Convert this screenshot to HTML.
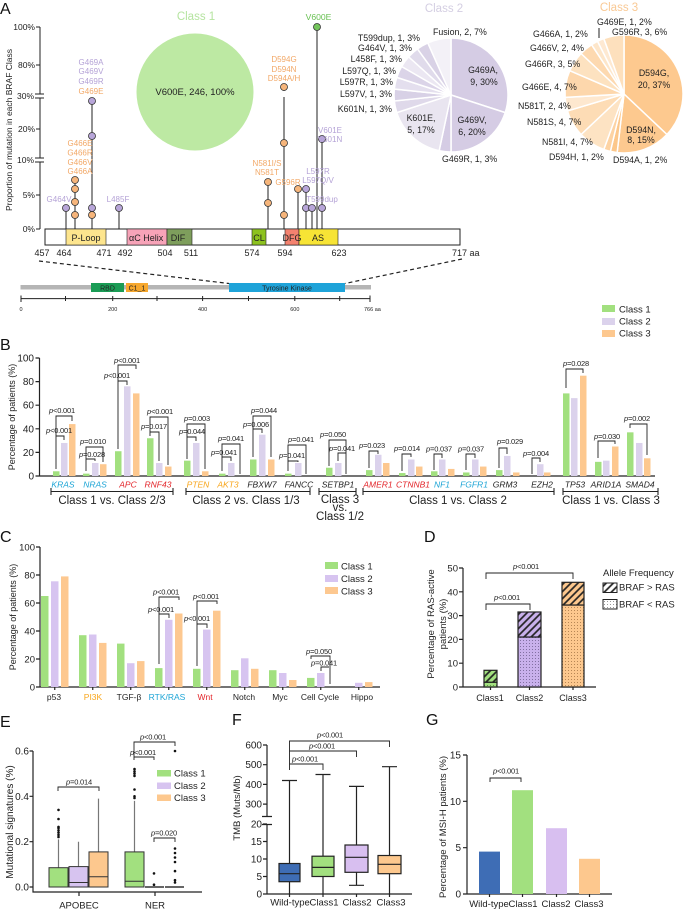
<!DOCTYPE html>
<html><head><meta charset="utf-8"><style>
html,body{margin:0;padding:0;background:#fff;}
svg{display:block;font-family:"Liberation Sans",Arial,sans-serif;}
.pv{font-size:7.5px;text-anchor:middle;letter-spacing:-0.2px;fill:#222}
.i{font-style:italic}
.br{stroke:#222;stroke-width:0.9;fill:none}
.ax{stroke:#222;stroke-width:1.2;fill:none}
.tk{font-size:10px;text-anchor:end;fill:#222}
.mid{text-anchor:middle}
.end{text-anchor:end}
</style></head><body>
<svg width="685" height="910" viewBox="0 0 685 910" xmlns="http://www.w3.org/2000/svg">
<defs>
<pattern id="hg" width="5" height="5" patternUnits="userSpaceOnUse" patternTransform="rotate(45)"><rect width="5" height="5" fill="#a2e07f"/><line x1="1" y1="0" x2="1" y2="5" stroke="#222" stroke-width="1.7"/></pattern>
<pattern id="hp" width="5" height="5" patternUnits="userSpaceOnUse" patternTransform="rotate(45)"><rect width="5" height="5" fill="#c9b1ec"/><line x1="1" y1="0" x2="1" y2="5" stroke="#222" stroke-width="1.7"/></pattern>
<pattern id="ho" width="5" height="5" patternUnits="userSpaceOnUse" patternTransform="rotate(45)"><rect width="5" height="5" fill="#fdc88e"/><line x1="1" y1="0" x2="1" y2="5" stroke="#222" stroke-width="1.7"/></pattern>
<pattern id="hw" width="5" height="5" patternUnits="userSpaceOnUse" patternTransform="rotate(45)"><rect width="5" height="5" fill="#fff"/><line x1="1" y1="0" x2="1" y2="5" stroke="#222" stroke-width="1.7"/></pattern>
<pattern id="dg" width="3" height="3" patternUnits="userSpaceOnUse"><rect width="3" height="3" fill="#a2e07f"/><circle cx="1.5" cy="1.5" r="0.5" fill="#4a7a3a"/></pattern>
<pattern id="dp" width="3" height="3" patternUnits="userSpaceOnUse"><rect width="3" height="3" fill="#c9b1ec"/><circle cx="1.5" cy="1.5" r="0.5" fill="#6a5a8a"/></pattern>
<pattern id="do" width="3" height="3" patternUnits="userSpaceOnUse"><rect width="3" height="3" fill="#fdc88e"/><circle cx="1.5" cy="1.5" r="0.5" fill="#a07040"/></pattern>
<pattern id="dw" width="3" height="3" patternUnits="userSpaceOnUse"><rect width="3" height="3" fill="#fff"/><circle cx="1.5" cy="1.5" r="0.5" fill="#777"/></pattern>
</defs>

<!-- ================= PANEL A ================= -->
<text x="0" y="14" font-size="16" fill="#111">A</text>
<text x="196" y="20" font-size="11.5" text-anchor="middle" fill="#b5e4a0">Class 1</text>
<circle cx="195" cy="92" r="58.5" fill="#bde9a3"/>
<text x="195" y="95" font-size="9.5" text-anchor="middle" fill="#222">V600E, 246, 100%</text>

<g stroke="#222" stroke-width="1" fill="none">
<path d="M40 27V94M40 98V158M40 162V229"/>
<path d="M36 27H40M36 65H40M36 129H40M36 195H40M36 229H40"/>
<path d="M35 94H44M35 98H44M35 158H44M35 162H44"/>
</g>
<g font-size="8.5" text-anchor="end" fill="#222">
<text x="35" y="30">100%</text><text x="35" y="68">80%</text><text x="34" y="99">30%</text>
<text x="35" y="132">20%</text><text x="34" y="163">10%</text><text x="35" y="198">5%</text><text x="35" y="232">0%</text>
</g>
<text transform="translate(12,130) rotate(-90)" text-anchor="middle" font-size="8.5" fill="#222">Proportion of mutation in each BRAF Class</text>

<!-- domain bar -->
<rect x="45" y="229" width="415" height="16" fill="#fff" stroke="#222" stroke-width="1"/>
<rect x="66" y="229" width="40" height="16" fill="#fde58e" stroke="#222" stroke-width="0.6"/>
<rect x="127" y="229" width="40" height="16" fill="#f7a3b8" stroke="#222" stroke-width="0.6"/>
<text x="129" y="241" font-size="9" fill="#222">αC Helix</text>
<rect x="167" y="229" width="25" height="16" fill="#7e9e5c" stroke="#222" stroke-width="0.6"/>
<rect x="252" y="229" width="14" height="16" fill="#8dc21f" stroke="#222" stroke-width="0.6"/>
<rect x="285" y="229" width="14" height="16" fill="#f4826f" stroke="#222" stroke-width="0.6"/>
<rect x="299" y="229" width="39" height="16" fill="#f7e435" stroke="#222" stroke-width="0.6"/>
<g font-size="9" fill="#222" text-anchor="middle">
<text x="86" y="241">P-Loop</text><text x="178" y="241">DIF</text><text x="259" y="241">CL</text>
<text x="292" y="241">DFG</text><text x="318" y="241">AS</text>
</g>
<g font-size="9" fill="#222" text-anchor="middle">
<text x="42" y="256">457</text><text x="64" y="256">464</text><text x="104" y="256">471</text><text x="125" y="256">492</text>
<text x="165" y="256">504</text><text x="191" y="256">511</text><text x="252" y="256">574</text><text x="285" y="256">594</text>
<text x="339" y="256">623</text><text x="452" y="256" text-anchor="start">717 aa</text>
</g>

<!-- stems -->
<path d="M66 208V229M75 180V229M92 101V229M119 208V229M268 182V229M284 97V229M284 87V91M298 189V229M306 189V229M312 208V229M317 27V229M322 139V229" stroke="#222" stroke-width="1" fill="none"/>
<g stroke="#333" stroke-width="0.8">
<g fill="#b8a6d9">
<circle cx="66" cy="208" r="3.5"/><circle cx="92" cy="101" r="3.5"/><circle cx="92" cy="136" r="3.5"/><circle cx="92" cy="208" r="3.5"/>
<circle cx="119" cy="208" r="3.5"/><circle cx="306" cy="189" r="3.5"/><circle cx="306" cy="208" r="3.5"/><circle cx="312" cy="208" r="3.5"/>
<circle cx="322" cy="139" r="3.5"/><circle cx="322" cy="208" r="3.5"/>
</g>
<g fill="#f6b57b">
<circle cx="75" cy="180" r="3.5"/><circle cx="75" cy="189" r="3.5"/><circle cx="75" cy="202" r="3.5"/><circle cx="75" cy="215" r="3.5"/>
<circle cx="92" cy="215" r="3.5"/><circle cx="268" cy="182" r="3.5"/><circle cx="268" cy="203" r="3.5"/>
<circle cx="284" cy="87" r="3.5"/><circle cx="284" cy="143" r="3.5"/><circle cx="284" cy="215" r="3.5"/><circle cx="298" cy="189" r="3.5"/>
</g>
<circle cx="317" cy="27" r="3.5" fill="#74c55c"/>
</g>
<g font-size="8" text-anchor="middle">
<g fill="#b4a2d6">
<text x="59" y="202">G464V</text>
<text x="91" y="65">G469A</text><text x="91" y="74">G469V</text><text x="91" y="84">G469R</text>
<text x="118" y="202">L485F</text>
<text x="318" y="174">L597R</text><text x="318" y="183">L597Q/V</text>
<text x="322" y="202">T599dup</text>
<text x="330" y="133">V601E</text><text x="330" y="142">V601N</text>
</g>
<g fill="#f2a867">
<text x="80" y="146">G466E</text><text x="80" y="155.5">G466R</text><text x="80" y="165">G466V</text><text x="80" y="174">G466A</text>
<text x="91" y="94">G469E</text>
<text x="267" y="166">N581I/S</text><text x="267" y="175">N581T</text>
<text x="284" y="62">D594G</text><text x="284" y="72">D594N</text><text x="284" y="81">D594A/H</text>
<text x="288" y="185">G596R</text>
</g>
<text x="318.5" y="20" fill="#68c152" font-size="8.6">V600E</text>
</g>

<!-- protein schematic -->
<g stroke="#222" stroke-width="1.2" stroke-dasharray="4,3" fill="none">
<path d="M39 261L229 283.5"/><path d="M462 259L345 283.5"/>
</g>
<rect x="20.5" y="285" width="350.5" height="4.5" fill="#b5b5b5"/>
<rect x="91" y="283" width="33" height="9" fill="#1a9c55"/>
<rect x="126" y="283" width="22" height="9" fill="#f7a82e"/>
<rect x="229" y="283" width="116" height="9" fill="#1ea3d9"/>
<g font-size="7" text-anchor="middle" fill="#222">
<text x="107.5" y="290.5">RBD</text><text x="137" y="290.5">C1_1</text><text x="287" y="290.5">Tyrosine  Kinase</text>
</g>
<path d="M21 298.6H370M21 295.5V302M65.5 296V301M112.7 296V301M157 296V301M202.6 296V301M248.5 296V301M294.8 296V301M339.7 296V301M370 295.5V302" stroke="#222" stroke-width="1" fill="none"/>
<g font-size="5.5" fill="#222" text-anchor="middle">
<text x="21" y="311">0</text><text x="112.7" y="311">200</text><text x="202.6" y="311">400</text><text x="294.8" y="311">600</text>
<text x="364" y="311" text-anchor="start">766 aa</text>
</g>

<!-- Class 2 pie -->
<text x="444" y="12" font-size="11.5" text-anchor="middle" fill="#d4cee2">Class 2</text>
<g stroke="#fff" stroke-width="1.5">
<path d="M451 95L451 38A57 57 0 0 1 505.21 112.61Z" fill="#d5cce4"/>
<path d="M451 95L505.21 112.61A57 57 0 0 1 451 152Z" fill="#d5cce4"/>
<path d="M451 95L451 152A57 57 0 0 1 439.15 150.75Z" fill="#d5cce4"/>
<path d="M451 95L439.15 150.75A57 57 0 0 1 396.79 112.61Z" fill="#e9e5f0"/>
<path d="M451 95L396.79 112.61A57 57 0 0 1 394.31 100.96Z" fill="#dfd9ea"/>
<path d="M451 95L394.31 100.96A57 57 0 0 1 394.31 89.04Z" fill="#d8d1e6"/>
<path d="M451 95L394.31 89.04A57 57 0 0 1 396.79 77.39Z" fill="#e4dfee"/>
<path d="M451 95L396.79 77.39A57 57 0 0 1 401.64 66.5Z" fill="#dbd4e8"/>
<path d="M451 95L401.64 66.5A57 57 0 0 1 408.64 56.86Z" fill="#ebe7f2"/>
<path d="M451 95L408.64 56.86A57 57 0 0 1 417.5 48.89Z" fill="#e0dbeb"/>
<path d="M451 95L417.5 48.89A57 57 0 0 1 427.82 42.93Z" fill="#d9d2e6"/>
<path d="M451 95L427.82 42.93A57 57 0 0 1 451 38Z" fill="#f3f1f7"/>
</g>
<g font-size="8.8" fill="#222">
<text x="433" y="35">Fusion, 2, 7%</text>
<g text-anchor="end">
<text x="420" y="41">T599dup, 1, 3%</text><text x="412" y="51">G464V, 1, 3%</text><text x="402" y="62">L458F, 1, 3%</text>
<text x="396" y="74">L597Q, 1, 3%</text><text x="393" y="85">L597R, 1, 3%</text><text x="392" y="97">L597V, 1, 3%</text>
<text x="392" y="112">K601N, 1, 3%</text>
</g>
<g text-anchor="middle">
<text x="483" y="73">G469A,</text><text x="484" y="85">9, 30%</text>
<text x="472" y="123">G469V,</text><text x="472" y="135">6, 20%</text>
<text x="421" y="121">K601E,</text><text x="421" y="133">5, 17%</text>
</g>
<text x="442" y="162">G469R, 1, 3%</text>
</g>

<!-- Class 3 pie -->
<text x="619" y="11" font-size="11.5" text-anchor="middle" fill="#f9c995">Class 3</text>
<g stroke="#fff" stroke-width="1.5">
<path d="M624 94L624 35A59 59 0 0 1 666.92 134.49Z" fill="#fdc98f"/>
<path d="M624 94L666.92 134.49A59 59 0 0 1 617.15 152.6Z" fill="#fdc98f"/>
<path d="M624 94L617.15 152.6A59 59 0 0 1 610.39 151.41Z" fill="#fcc78a"/>
<path d="M624 94L610.39 151.41A59 59 0 0 1 603.82 149.44Z" fill="#fdd3a3"/>
<path d="M624 94L603.82 149.44A59 59 0 0 1 581.08 134.49Z" fill="#fde3c3"/>
<path d="M624 94L581.08 134.49A59 59 0 0 1 567.48 110.92Z" fill="#fddcb5"/>
<path d="M624 94L567.48 110.92A59 59 0 0 1 565.1 97.43Z" fill="#fee8cf"/>
<path d="M624 94L565.1 97.43A59 59 0 0 1 569.81 70.63Z" fill="#fdd7ac"/>
<path d="M624 94L569.81 70.63A59 59 0 0 1 581.08 53.51Z" fill="#fde2c0"/>
<path d="M624 94L581.08 53.51A59 59 0 0 1 591.58 44.71Z" fill="#fdd9b0"/>
<path d="M624 94L591.58 44.71A59 59 0 0 1 597.53 41.27Z" fill="#fde6ca"/>
<path d="M624 94L597.53 41.27A59 59 0 0 1 603.82 38.56Z" fill="#fee9d2"/>
<path d="M624 94L603.82 38.56A59 59 0 0 1 624 35Z" fill="#fde0bd"/>
</g>
<path d="M599 28V38" stroke="#222" stroke-width="1"/>
<g font-size="8.8" fill="#222">
<text x="597" y="25">G469E, 1, 2%</text><text x="612" y="35">G596R, 3, 6%</text>
<text x="533" y="37">G466A, 1, 2%</text><text x="530" y="51">G466V, 2, 4%</text>
<text x="525" y="67">G466R, 3, 5%</text><text x="522" y="90">G466E, 4, 7%</text>
<text x="518" y="109">N581T, 2, 4%</text><text x="527" y="125">N581S, 4, 7%</text>
<text x="542" y="145">N581I, 4, 7%</text><text x="549" y="160">D594H, 1, 2%</text>
<text x="613" y="163">D594A, 1, 2%</text>
<g text-anchor="middle">
<text x="654" y="76">D594G,</text><text x="654" y="88">20, 37%</text>
<text x="641" y="133">D594N,</text><text x="641" y="143">8, 15%</text>
</g>
</g>

<!-- ================= PANEL B ================= -->
<text x="0" y="350" font-size="16" fill="#111">B</text>
<path class="ax" d="M39.5 358V476H655M35.5 358H39.5M35.5 381.6H39.5M35.5 405.2H39.5M35.5 428.8H39.5M35.5 452.4H39.5M35.5 476H39.5"/>
<g class="tk">
<text x="34" y="361.5">100</text><text x="34" y="385">80</text><text x="34" y="408.7">60</text>
<text x="34" y="432.3">40</text><text x="34" y="456">20</text><text x="34" y="479.5">0</text>
</g>
<text transform="translate(15,417) rotate(-90)" text-anchor="middle" font-size="9" fill="#222">Percentage of patients (%)</text>

<g fill="#a2e07f">
<rect x="53" y="471.28" width="6.5" height="4.72"/><rect x="83" y="473.64" width="6.5" height="2.36"/>
<rect x="115" y="451.22" width="6.5" height="24.78"/><rect x="147" y="438.24" width="6.5" height="37.76"/>
<rect x="184" y="460.66" width="6.5" height="15.34"/><rect x="219" y="473.64" width="6.5" height="2.36"/>
<rect x="250" y="459.48" width="6.5" height="16.52"/><rect x="285" y="473.64" width="6.5" height="2.36"/>
<rect x="326" y="467.74" width="6.5" height="8.26"/><rect x="366" y="470.1" width="6.5" height="5.9"/>
<rect x="399" y="473.05" width="6.5" height="2.95"/><rect x="431" y="471.28" width="6.5" height="4.72"/>
<rect x="463" y="472.46" width="6.5" height="3.54"/><rect x="496" y="470.1" width="6.5" height="5.9"/>
<rect x="563" y="393.4" width="6.5" height="82.6"/><rect x="595" y="461.84" width="6.5" height="14.16"/>
<rect x="627" y="432.34" width="6.5" height="43.66"/>
</g>
<g fill="#dbd2ec">
<rect x="61" y="442.96" width="6.5" height="33.04"/><rect x="92" y="463.02" width="6.5" height="12.98"/>
<rect x="124" y="386.32" width="6.5" height="89.68"/><rect x="156" y="463.02" width="6.5" height="12.98"/>
<rect x="193" y="442.96" width="6.5" height="33.04"/><rect x="228" y="463.02" width="6.5" height="12.98"/>
<rect x="259" y="434.7" width="6.5" height="41.3"/><rect x="295" y="463.02" width="6.5" height="12.98"/>
<rect x="335" y="463.02" width="6.5" height="12.98"/><rect x="375" y="454.76" width="6.5" height="21.24"/>
<rect x="408" y="459.48" width="6.5" height="16.52"/><rect x="439" y="459.48" width="6.5" height="16.52"/>
<rect x="472" y="459.48" width="6.5" height="16.52"/><rect x="504" y="455.94" width="6.5" height="20.06"/>
<rect x="537" y="464.2" width="6.5" height="11.8"/><rect x="571" y="398.12" width="6.5" height="77.88"/>
<rect x="603" y="460.66" width="6.5" height="15.34"/><rect x="636" y="442.96" width="6.5" height="33.04"/>
</g>
<g fill="#fdc88f">
<rect x="69" y="424.08" width="6.5" height="51.92"/><rect x="100" y="464.2" width="6.5" height="11.8"/>
<rect x="133" y="393.4" width="6.5" height="82.6"/><rect x="165" y="466.56" width="6.5" height="9.44"/>
<rect x="202" y="471.28" width="6.5" height="4.72"/><rect x="268" y="459.48" width="6.5" height="16.52"/>
<rect x="383" y="463.02" width="6.5" height="12.98"/><rect x="416" y="466.56" width="6.5" height="9.44"/>
<rect x="448" y="468.92" width="6.5" height="7.08"/><rect x="480" y="466.56" width="6.5" height="9.44"/>
<rect x="513" y="472.46" width="6.5" height="3.54"/><rect x="544" y="472.46" width="6.5" height="3.54"/>
<rect x="580" y="375.7" width="6.5" height="100.3"/><rect x="612" y="446.5" width="6.5" height="29.5"/>
<rect x="644" y="458.3" width="6.5" height="17.7"/>
</g>

<!-- B brackets -->
<path class="br" d="M56 469V436H64V440M56 436V416H72V421M86 471V459H95V461M86 459V447H103V462M118 449V381H127V385M118 381V365H136V369M150 436V432H159V461M150 432V417H168V465M187 459V437H196V441M187 437V424H205V469M222 471V457H231V461M222 457V444H240V474M253 457V429H262V433M253 429V416H271V457M288 471V461H298V462M288 461V445H306V474M329 466V440H346V453M338 461V453H346V474M369 468V451H378V454M402 471V454H411V457M434 470V454H442V458M466 470V454H475V458M499 468V448H507V454M532 474V458H540V462M566 388V369H583V373M598 458V441H615V444M630 428V424H647V455"/>
<text class="pv" x="59" y="433"><tspan class="i">p</tspan>&lt;0.001</text>
<text class="pv" x="62" y="413"><tspan class="i">p</tspan>&lt;0.001</text>
<text class="pv" x="92" y="457"><tspan class="i">p</tspan>=0.028</text>
<text class="pv" x="93" y="444"><tspan class="i">p</tspan>=0.010</text>
<text class="pv" x="117" y="378"><tspan class="i">p</tspan>&lt;0.001</text>
<text class="pv" x="127" y="363"><tspan class="i">p</tspan>&lt;0.001</text>
<text class="pv" x="154" y="429"><tspan class="i">p</tspan>=0.017</text>
<text class="pv" x="160" y="414"><tspan class="i">p</tspan>&lt;0.001</text>
<text class="pv" x="192" y="434"><tspan class="i">p</tspan>=0.044</text>
<text class="pv" x="197" y="421"><tspan class="i">p</tspan>=0.003</text>
<text class="pv" x="224" y="455"><tspan class="i">p</tspan>=0.041</text>
<text class="pv" x="231" y="441"><tspan class="i">p</tspan>=0.041</text>
<text class="pv" x="256" y="427"><tspan class="i">p</tspan>=0.006</text>
<text class="pv" x="264" y="413"><tspan class="i">p</tspan>=0.044</text>
<text class="pv" x="292" y="458"><tspan class="i">p</tspan>=0.041</text>
<text class="pv" x="301" y="442"><tspan class="i">p</tspan>=0.041</text>
<text class="pv" x="333" y="437"><tspan class="i">p</tspan>=0.050</text>
<text class="pv" x="342" y="451"><tspan class="i">p</tspan>=0.041</text>
<text class="pv" x="372" y="448"><tspan class="i">p</tspan>=0.023</text>
<text class="pv" x="407" y="451"><tspan class="i">p</tspan>=0.014</text>
<text class="pv" x="439" y="451.5"><tspan class="i">p</tspan>=0.037</text>
<text class="pv" x="471" y="451.5"><tspan class="i">p</tspan>=0.037</text>
<text class="pv" x="510" y="444"><tspan class="i">p</tspan>=0.029</text>
<text class="pv" x="536" y="456"><tspan class="i">p</tspan>=0.004</text>
<text class="pv" x="576" y="366"><tspan class="i">p</tspan>=0.028</text>
<text class="pv" x="607" y="439"><tspan class="i">p</tspan>=0.030</text>
<text class="pv" x="637" y="421"><tspan class="i">p</tspan>=0.002</text>

<!-- B gene labels -->
<g font-size="8.5" font-style="italic" text-anchor="middle">
<text x="63" y="487.5" fill="#1ea5d6">KRAS</text><text x="95" y="487.5" fill="#1ea5d6">NRAS</text>
<text x="128" y="487.5" fill="#e3262b">APC</text><text x="158" y="487.5" fill="#e3262b">RNF43</text>
<text x="198" y="487.5" fill="#f8a61c">PTEN</text><text x="228" y="487.5" fill="#f8a61c">AKT3</text>
<text x="262" y="487.5" fill="#222">FBXW7</text><text x="299" y="487.5" fill="#222">FANCC</text>
<text x="338" y="487.5" fill="#222">SETBP1</text>
<text x="378" y="487.5" fill="#e3262b">AMER1</text><text x="413" y="487.5" fill="#e3262b">CTNNB1</text>
<text x="442" y="487.5" fill="#1ea5d6">NF1</text><text x="474" y="487.5" fill="#1ea5d6">FGFR1</text>
<text x="505" y="487.5" fill="#222">GRM3</text><text x="542" y="487.5" fill="#222">EZH2</text>
<text x="575" y="487.5" fill="#222">TP53</text><text x="606" y="487.5" fill="#222">ARID1A</text><text x="640" y="487.5" fill="#222">SMAD4</text>
</g>
<path d="M51 491.5H173M51 488V495M173 488V495M186 491.5H310M186 488V495M310 488V495M319 491.5H356M319 488V495M356 488V495M363 491.5H554M363 488V495M554 488V495M563 491.5H658M563 488V495M658 488V495" stroke="#222" stroke-width="1.1" fill="none"/>
<g font-size="11.5" text-anchor="middle" fill="#222">
<text x="112" y="504">Class 1 vs. Class 2/3</text>
<text x="246" y="504">Class 2 vs. Class 1/3</text>
<text x="340" y="503">Class 3</text><text x="340" y="511">vs.</text><text x="340" y="520">Class 1/2</text>
<text x="458" y="504">Class 1 vs. Class 2</text>
<text x="611" y="504">Class 1 vs. Class 3</text>
</g>
<!-- B legend -->
<rect x="602" y="305" width="13" height="7" fill="#a2e07f"/>
<rect x="602" y="318" width="13" height="7" fill="#dbd2ec"/>
<rect x="602" y="330" width="13" height="7" fill="#fdc88f"/>
<g font-size="9.5" fill="#222">
<text x="619" y="312.5">Class 1</text><text x="619" y="324.5">Class 2</text><text x="619" y="336.5">Class 3</text>
</g>

<!-- ================= PANEL C ================= -->
<text x="0" y="542" font-size="16" fill="#111">C</text>
<path class="ax" d="M40 547V687H380M36 547H40M36 575H40M36 603H40M36 631H40M36 659H40M36 687H40M54.75 687V690M92.75 687V690M130.75 687V690M168.75 687V690M206.75 687V690M244.75 687V690M282.75 687V690M320.75 687V690M358.75 687V690"/>
<g class="tk" style="font-size:9.5px">
<text x="35" y="550.5">100</text><text x="35" y="578.5">80</text><text x="35" y="606.5">60</text>
<text x="35" y="634.5">40</text><text x="35" y="662.5">20</text><text x="35" y="690.5">0</text>
</g>
<text transform="translate(16,617) rotate(-90)" text-anchor="middle" font-size="9" fill="#222">Percentage of patients (%)</text>
<g fill="#a2e07f">
<rect x="41" y="596" width="7.5" height="91"/><rect x="79" y="635.2" width="7.5" height="51.8"/>
<rect x="117" y="643.6" width="7.5" height="43.4"/><rect x="155" y="668.1" width="7.5" height="18.9"/>
<rect x="193" y="668.8" width="7.5" height="18.2"/><rect x="231" y="670.2" width="7.5" height="16.8"/>
<rect x="269" y="670.2" width="7.5" height="16.8"/><rect x="307" y="677.9" width="7.5" height="9.1"/>
</g>
<g fill="#d7c4f0">
<rect x="51" y="581.3" width="7.5" height="105.7"/><rect x="89" y="634.5" width="7.5" height="52.5"/>
<rect x="127" y="663.2" width="7.5" height="23.8"/><rect x="165" y="619.8" width="7.5" height="67.2"/>
<rect x="203" y="629.6" width="7.5" height="57.4"/><rect x="241" y="658.3" width="7.5" height="28.7"/>
<rect x="279" y="673" width="7.5" height="14"/><rect x="317" y="673" width="7.5" height="14"/>
<rect x="355" y="682.8" width="7.5" height="4.2"/>
</g>
<g fill="#fdc890">
<rect x="61" y="576.4" width="7.5" height="110.6"/><rect x="99" y="642.9" width="7.5" height="44.1"/>
<rect x="137" y="661.1" width="7.5" height="25.9"/><rect x="175" y="613.5" width="7.5" height="73.5"/>
<rect x="213" y="610.7" width="7.5" height="76.3"/><rect x="251" y="668.8" width="7.5" height="18.2"/>
<rect x="289" y="680" width="7.5" height="7"/><rect x="365" y="682.1" width="7.5" height="4.9"/>
</g>
<path class="br" d="M159 664V614H169V618M159 614V597H179V600M197 666V624H207V628M197 624V601H217V604M311 659V656H330V684M321 671V667H329"/>
<text class="pv" x="161" y="612"><tspan class="i">p</tspan>&lt;0.001</text>
<text class="pv" x="166" y="594.5"><tspan class="i">p</tspan>&lt;0.001</text>
<text class="pv" x="197" y="621"><tspan class="i">p</tspan>&lt;0.001</text>
<text class="pv" x="206" y="599"><tspan class="i">p</tspan>&lt;0.001</text>
<text class="pv" x="319" y="654"><tspan class="i">p</tspan>=0.050</text>
<text class="pv" x="324" y="665.5"><tspan class="i">p</tspan>=0.041</text>
<g font-size="8.5" text-anchor="middle" fill="#222">
<text x="54" y="700">p53</text><text x="93" y="700" fill="#f8a61c">PI3K</text><text x="129" y="700">TGF-β</text>
<text x="167" y="700" fill="#1ea5d6">RTK/RAS</text><text x="205" y="700" fill="#e3262b">Wnt</text>
<text x="244" y="700">Notch</text><text x="280" y="700">Myc</text><text x="320" y="700">Cell Cycle</text><text x="362" y="700">Hippo</text>
</g>
<rect x="325" y="562" width="13" height="7" fill="#a2e07f"/>
<rect x="325" y="575" width="13" height="7" fill="#d7c4f0"/>
<rect x="325" y="587" width="13" height="7" fill="#fdc890"/>
<g font-size="9.5" fill="#222">
<text x="341" y="569.5">Class 1</text><text x="341" y="582">Class 2</text><text x="341" y="594.5">Class 3</text>
</g>

<!-- ================= PANEL D ================= -->
<text x="424" y="542" font-size="16" fill="#111">D</text>
<path class="ax" d="M463 568V687H596M459 568H463M459 591.8H463M459 615.6H463M459 639.4H463M459 663.2H463M459 687H463M490.5 687V690M529.5 687V690M573 687V690"/>
<g class="tk" style="font-size:9.5px">
<text x="458" y="571.5">50</text><text x="458" y="595.3">40</text><text x="458" y="619">30</text>
<text x="458" y="643">20</text><text x="458" y="666.7">10</text><text x="458" y="690.5">0</text>
</g>
<g font-size="9.5" text-anchor="middle" fill="#222">
<text transform="translate(434,624) rotate(-90)">Percentage of RAS-active</text>
<text transform="translate(446,624) rotate(-90)">patients (%)</text>
</g>
<g stroke="#222" stroke-width="1.2">
<rect x="484" y="682.2" width="13" height="4.8" fill="url(#dg)"/>
<rect x="484" y="670.3" width="13" height="11.9" fill="url(#hg)"/>
<rect x="518" y="637" width="23" height="50" fill="url(#dp)"/>
<rect x="518" y="612" width="23" height="25" fill="url(#hp)"/>
<rect x="562" y="605" width="22" height="82" fill="url(#do)"/>
<rect x="562" y="582.3" width="22" height="22.7" fill="url(#ho)"/>
</g>
<path class="br" d="M486 610V604H530V610M486 579V573H573V579"/>
<text class="pv" x="507" y="600"><tspan class="i">p</tspan>&lt;0.001</text>
<text class="pv" x="526" y="569"><tspan class="i">p</tspan>&lt;0.001</text>
<g font-size="9" text-anchor="middle" fill="#222">
<text x="490" y="701">Class1</text><text x="529.5" y="701">Class2</text><text x="573" y="701">Class3</text>
</g>
<g font-size="9.5" fill="#222">
<text x="603" y="576">Allele Frequency</text>
<text x="619" y="590.5">BRAF &gt; RAS</text>
<text x="619" y="607.5">BRAF &lt; RAS</text>
</g>
<rect x="603" y="583" width="14" height="9.5" fill="url(#hw)" stroke="#222" stroke-width="1"/>
<rect x="603" y="599.5" width="14" height="9.5" fill="url(#dw)" stroke="#222" stroke-width="1"/>

<!-- ================= PANEL E ================= -->
<text x="0" y="727" font-size="16" fill="#111">E</text>
<path class="ax" d="M33 751V892H202M29.5 751H33M29.5 796.3H33M29.5 841.7H33M29.5 887H33M79 892V896M155 892V896"/>
<g class="tk">
<text x="29" y="754.5">0.6</text><text x="29" y="799.8">0.4</text><text x="29" y="845.2">0.2</text><text x="29" y="890.5">0.0</text>
</g>
<text transform="translate(13,822) rotate(-90)" text-anchor="middle" font-size="10" fill="#222">Mutational signatures (%)</text>
<!-- whiskers -->
<path d="M58.5 867.7V839.4M78.5 866.6V841.7M98.5 851.9V798.6M134.5 851.9V800.9" stroke="#777" stroke-width="1.2"/>
<g stroke="#333" stroke-width="1">
<rect x="49" y="867.7" width="19" height="19.3" fill="#a2e07f"/>
<rect x="69" y="866.6" width="19" height="20.4" fill="#d7c4f0"/>
<rect x="89" y="851.9" width="19" height="35.1" fill="#fdc88e"/>
<rect x="125" y="851.9" width="19" height="35.1" fill="#a2e07f"/>
<path d="M69 882.5H88M89 876.8H108M125 881.3H144" fill="none"/>
</g>
<path d="M145 887H164M165 887H184" stroke="#333" stroke-width="1.5"/>
<g fill="#111">
<circle cx="58.5" cy="837" r="1.3"/><circle cx="58.5" cy="834.9" r="1.3"/><circle cx="58.5" cy="832.6" r="1.3"/>
<circle cx="58.5" cy="830.3" r="1.3"/><circle cx="58.5" cy="828" r="1.3"/><circle cx="58.5" cy="826.9" r="1.3"/>
<circle cx="58.5" cy="819" r="1.3"/><circle cx="58.5" cy="809.9" r="1.3"/>
<circle cx="134.5" cy="789.5" r="1.3"/><circle cx="134.5" cy="796.3" r="1.3"/><circle cx="134.5" cy="798" r="1.3"/>
<circle cx="134.5" cy="775.9" r="1.3"/><circle cx="134.5" cy="773.6" r="1.3"/><circle cx="134.5" cy="771.4" r="1.3"/><circle cx="134.5" cy="769.1" r="1.3"/>
<circle cx="154" cy="873.4" r="1.3"/><circle cx="154" cy="884.7" r="1.3"/>
<circle cx="175" cy="751" r="1.3"/><circle cx="175" cy="848.5" r="1.3"/><circle cx="175" cy="853" r="1.3"/>
<circle cx="175" cy="857.5" r="1.3"/><circle cx="175" cy="862" r="1.3"/><circle cx="175" cy="871.1" r="1.3"/>
<circle cx="175" cy="880.2" r="1.3"/><circle cx="175" cy="882.5" r="1.3"/>
</g>
<path class="br" d="M58 791V787H99V791M134 760V742H175V746M134 757H154V760M154 842V838H175V842"/>
<text class="pv" x="79" y="784.5"><tspan class="i">p</tspan>=0.014</text>
<text class="pv" x="153" y="739.5"><tspan class="i">p</tspan>&lt;0.001</text>
<text class="pv" x="143" y="755"><tspan class="i">p</tspan>&lt;0.001</text>
<text class="pv" x="164" y="835.5"><tspan class="i">p</tspan>=0.020</text>
<rect x="157" y="770" width="14" height="6.5" fill="#a2e07f"/>
<rect x="157" y="782.5" width="14" height="6.5" fill="#d7c4f0"/>
<rect x="157" y="794.5" width="14" height="6.5" fill="#fdc88e"/>
<g font-size="9.5" fill="#222">
<text x="174" y="776.5">Class 1</text><text x="174" y="789">Class 2</text><text x="174" y="801">Class 3</text>
</g>
<g font-size="9.5" text-anchor="middle" fill="#222">
<text x="79" y="908.5">APOBEC</text><text x="155" y="908.5">NER</text>
</g>

<!-- ================= PANEL F ================= -->
<text x="232" y="725" font-size="16" fill="#111">F</text>
<path class="ax" d="M267 745V817M267 824V894H412M263 745H267M263 764.7H267M263 784.4H267M263 804.1H267M263 824H267M263 841.5H267M263 859H267M263 876.5H267M263 894H267M289.5 894V897M323 894V897M356.5 894V897M389.5 894V897"/>
<path d="M262 816.5H272M262 824.5H272" stroke="#222" stroke-width="1.2"/>
<g class="tk">
<text x="262" y="748.5">600</text><text x="262" y="768.2">500</text><text x="262" y="787.9">400</text><text x="262" y="807.6">300</text>
<text x="262" y="827.5">20</text><text x="262" y="845">15</text><text x="262" y="862.5">10</text><text x="262" y="880">5</text><text x="262" y="897.5">0</text>
</g>
<text transform="translate(240,808) rotate(-90)" text-anchor="middle" font-size="9.5" fill="#222">TMB (Muts/Mb)</text>
<g stroke="#222" stroke-width="1.2" fill="none">
<path d="M289.5 780.5V863.5M289.5 881.7V894M282 780.5H297"/>
<path d="M323 774.5V856.2M323 876.5V894M315.5 774.5H330.5"/>
<path d="M356.5 786.4V845M356.5 872.3V885.3M349 786.4H364M349 885.3H364"/>
<path d="M389.5 766.7V855.5M389.5 873.7V894M382 766.7H397"/>
</g>
<g stroke="#222" stroke-width="1.2">
<rect x="279" y="863.5" width="21" height="18.2" fill="#3e6db5"/>
<rect x="312" y="856.2" width="22" height="20.3" fill="#a2e07f"/>
<rect x="345" y="845" width="23" height="27.3" fill="#d8bff0"/>
<rect x="378" y="855.5" width="23" height="18.2" fill="#fdc88e"/>
<path d="M279 873.7H300M312 867.4H334M345 857.3H368M378 864.3H401" fill="none"/>
</g>
<path class="br" d="M289.5 770V741H389.5V747M289.5 751H356.5V757M289.5 764H323V770"/>
<text class="pv" x="305" y="761.5"><tspan class="i">p</tspan>&lt;0.001</text>
<text class="pv" x="322" y="748.5"><tspan class="i">p</tspan>&lt;0.001</text>
<text class="pv" x="330" y="737.5"><tspan class="i">p</tspan>&lt;0.001</text>
<g font-size="9.5" text-anchor="middle" fill="#222">
<text x="290" y="905.5">Wild-type</text><text x="324" y="905.5">Class1</text><text x="357" y="905.5">Class2</text><text x="391" y="905.5">Class3</text>
</g>

<!-- ================= PANEL G ================= -->
<text x="426" y="725" font-size="16" fill="#111">G</text>
<path class="ax" d="M467 755V894H612M463 755H467M463 801.3H467M463 847.7H467M463 894H467M489.5 894V897M522.5 894V897M556.5 894V897M589.5 894V897"/>
<g class="tk">
<text x="461" y="758.5">15</text><text x="461" y="804.8">10</text><text x="461" y="851.2">5</text><text x="461" y="897.5">0</text>
</g>
<text transform="translate(446,827) rotate(-90)" text-anchor="middle" font-size="9.5" fill="#222">Percentage of MSI-H patients (%)</text>
<rect x="479" y="851.6" width="21" height="42.4" fill="#3e6db5"/>
<rect x="512" y="790.2" width="21" height="103.8" fill="#a2e07f"/>
<rect x="546" y="828.2" width="21" height="65.8" fill="#d8bff0"/>
<rect x="579" y="858.8" width="21" height="35.2" fill="#fdc88e"/>
<path class="br" d="M490 782V778H521V782"/>
<text class="pv" x="506" y="773.5"><tspan class="i">p</tspan>&lt;0.001</text>
<g font-size="9.5" text-anchor="middle" fill="#222">
<text x="489" y="907">Wild-type</text><text x="523" y="907">Class1</text><text x="556" y="907">Class2</text><text x="589" y="907">Class3</text>
</g>
</svg>
</body></html>
